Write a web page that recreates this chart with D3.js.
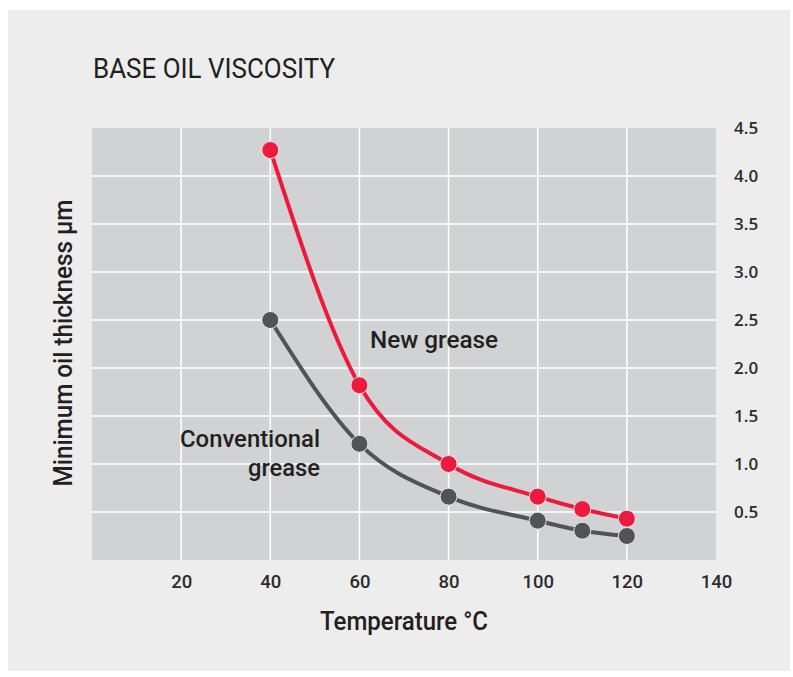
<!DOCTYPE html>
<html><head><meta charset="utf-8">
<script src="https://cdn.jsdelivr.net/npm/d3@7"></script>
<style>
html,body{margin:0;padding:0;background:#fff;}
svg{display:block;}
</style></head>
<body>
<svg id="chart" width="793" height="677"></svg>
<script>
const temperatures = [40, 60, 80, 100, 110, 120];
const newGrease = [4.27, 1.82, 1.0, 0.66, 0.53, 0.43];
const conventionalGrease = [2.5, 1.21, 0.66, 0.41, 0.305, 0.25];
const xTicks = [20, 40, 60, 80, 100, 120, 140];
const yTicks = [0.5, 1.0, 1.5, 2.0, 2.5, 3.0, 3.5, 4.0, 4.5];
const seriesNames = ["New grease", "Conventional grease"];

const svg = d3.select("#chart");
svg.append("rect").attr("x", 8).attr("y", 10).attr("width", 782).attr("height", 661).attr("fill", "#ededed");

const x = d3.scaleLinear().domain([0, 140]).range([92, 716]);
const y = d3.scaleLinear().domain([0, 4.5]).range([560, 128]);

svg.append("rect").attr("x", x(0)).attr("y", y(4.5)).attr("width", x(140) - x(0)).attr("height", y(0) - y(4.5)).attr("fill", "#d1d2d4");

// grid
svg.append("g").selectAll("line").data(xTicks.filter(d => d < 140)).join("line")
  .attr("x1", d => x(d)).attr("x2", d => x(d)).attr("y1", y(0)).attr("y2", y(4.5))
  .attr("stroke", "#fff").attr("stroke-width", 1.5);
svg.append("g").selectAll("line").data(yTicks.filter(d => d < 4.5)).join("line")
  .attr("x1", x(0)).attr("x2", x(140)).attr("y1", d => y(d)).attr("y2", d => y(d))
  .attr("stroke", "#fff").attr("stroke-width", 1.5);

// axes
const xAxis = svg.append("g").attr("transform", `translate(0,${y(0)})`)
  .call(d3.axisBottom(x).tickValues(xTicks).tickSize(0).tickPadding(15));
xAxis.select(".domain").remove();
xAxis.selectAll("text").attr("font-family", "Roboto, sans-serif").attr("font-size", 18.5).attr("font-weight", 500).attr("fill", "#2b2b2b");

const yAxis = svg.append("g").attr("transform", `translate(${x(140)},0)`)
  .call(d3.axisRight(y).tickValues(yTicks).tickFormat(d3.format(".1f")).tickSize(0).tickPadding(18));
yAxis.select(".domain").remove();
yAxis.selectAll("text").attr("font-family", "'Open Sans', sans-serif").attr("font-size", 17).attr("font-weight", 600).attr("fill", "#2b2b2b");

// lines
const data = [
  {name: seriesNames[0], values: newGrease, color: "#ee1a3d"},
  {name: seriesNames[1], values: conventionalGrease, color: "#525355"}
];
const line = d3.line().x(d => x(d[0])).y(d => y(d[1])).curve(d3.curveMonotoneX);
[data[1], data[0]].forEach(s => {
  const pts = temperatures.map((t, i) => [t, s.values[i]]);
  svg.append("path").datum(pts).attr("d", line).attr("fill", "none").attr("stroke", s.color).attr("stroke-width", 4);
  svg.append("g").selectAll("circle").data(pts).join("circle")
    .attr("cx", d => x(d[0])).attr("cy", d => y(d[1])).attr("r", 8.5)
    .attr("fill", s.color).attr("stroke", "#e6e6e8").attr("stroke-width", 1);
});

// labels
const lab = svg.append("g").attr("font-family", "Roboto, sans-serif").attr("font-size", 24).attr("font-weight", 500).attr("fill", "#231f20");
lab.append("text").attr("x", 370).attr("y", 348).attr("textLength", 128).attr("lengthAdjust", "spacingAndGlyphs").text("New grease");
lab.append("text").attr("x", 320).attr("y", 447).attr("text-anchor", "end").attr("textLength", 140).attr("lengthAdjust", "spacingAndGlyphs").text("Conventional");
lab.append("text").attr("x", 320).attr("y", 476).attr("text-anchor", "end").attr("textLength", 72).attr("lengthAdjust", "spacingAndGlyphs").text("grease");

svg.append("text").attr("x", 93).attr("y", 78).attr("font-family", "Roboto, sans-serif").attr("font-size", 28)
  .attr("fill", "#231f20").attr("textLength", 242).attr("lengthAdjust", "spacingAndGlyphs").text("BASE OIL VISCOSITY");

svg.append("text").attr("x", 404).attr("y", 630).attr("text-anchor", "middle").attr("font-family", "Roboto, sans-serif")
  .attr("font-size", 25).attr("font-weight", 500).attr("fill", "#231f20").attr("textLength", 168).attr("lengthAdjust", "spacingAndGlyphs").text("Temperature °C");

svg.append("text").attr("transform", "translate(72,343) rotate(-90)").attr("text-anchor", "middle")
  .attr("font-family", "Roboto, sans-serif").attr("font-size", 25).attr("font-weight", 500).attr("fill", "#231f20")
  .attr("textLength", 287).attr("lengthAdjust", "spacingAndGlyphs").text("Minimum oil thickness µm");
</script>
</body></html>
